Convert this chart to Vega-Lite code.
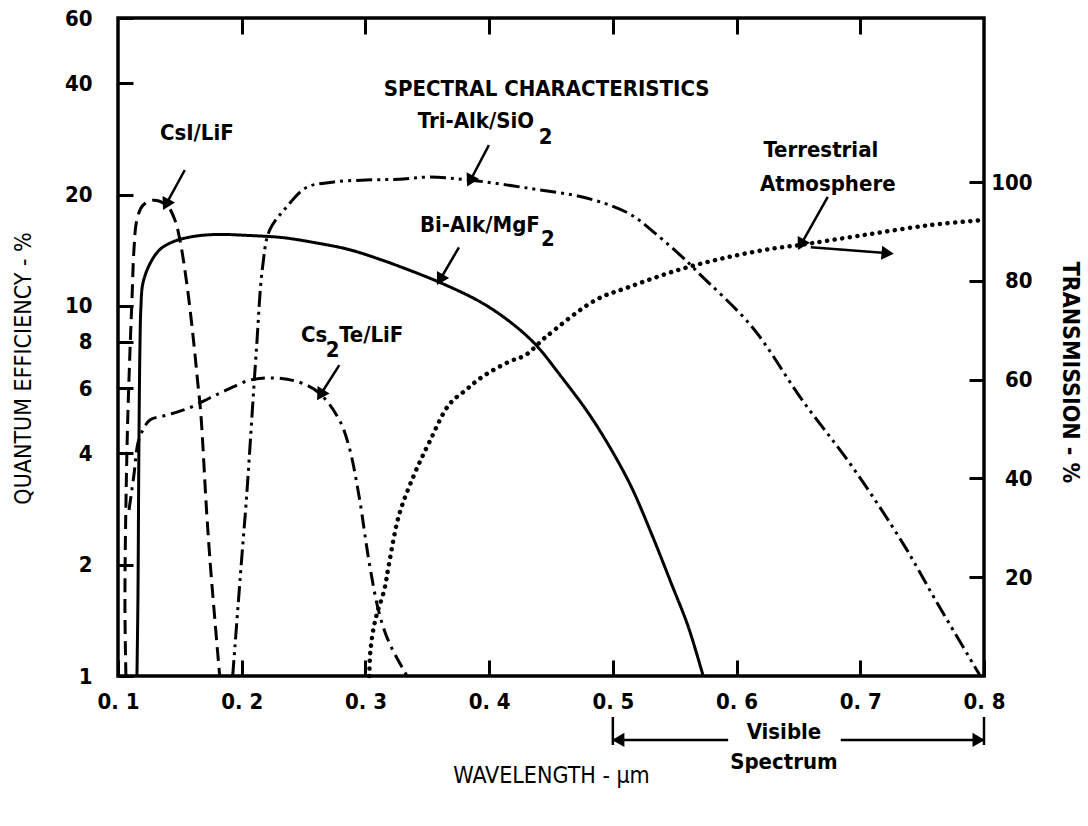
{
  "$schema": "https://vega.github.io/schema/vega-lite/v6.json",
  "width": 866,
  "height": 658,
  "autosize": {"type": "none"},
  "padding": {"left": 118, "top": 18, "right": 104, "bottom": 150},
  "background": "white",
  "config": {
    "font": "Liberation Sans Narrow, DejaVu Sans Condensed, sans-serif",
    "view": {"stroke": "black", "strokeWidth": 3.5},
    "axis": {
      "domain": false,
      "grid": false,
      "tickColor": "black",
      "tickWidth": 3,
      "labelColor": "black",
      "titleColor": "black",
      "labelFont": "Liberation Sans Narrow, DejaVu Sans Condensed, sans-serif",
      "titleFont": "Liberation Sans Narrow, DejaVu Sans Condensed, sans-serif",
      "labelFontWeight": "bold",
      "labelFontSize": 22,
      "titleFontSize": 23,
      "titleFontWeight": "normal",
      "labelFlush": false,
      "labelOverlap": false,
      "labelBound": false
    },
    "text": {"font": "Liberation Sans Narrow, DejaVu Sans Condensed, sans-serif"}
  },
  "datasets": {
    "qe": [
      {"series": "CsI/LiF", "wl": 0.1064, "qe": 1.0},
      {"series": "CsI/LiF", "wl": 0.1056, "qe": 1.6},
      {"series": "CsI/LiF", "wl": 0.1073, "qe": 4.16},
      {"series": "CsI/LiF", "wl": 0.1097, "qe": 7.6},
      {"series": "CsI/LiF", "wl": 0.1113, "qe": 10.4},
      {"series": "CsI/LiF", "wl": 0.1129, "qe": 14.2},
      {"series": "CsI/LiF", "wl": 0.1153, "qe": 17.1},
      {"series": "CsI/LiF", "wl": 0.1201, "qe": 18.7},
      {"series": "CsI/LiF", "wl": 0.1282, "qe": 19.3},
      {"series": "CsI/LiF", "wl": 0.1395, "qe": 18.7},
      {"series": "CsI/LiF", "wl": 0.1459, "qe": 17.1},
      {"series": "CsI/LiF", "wl": 0.15, "qe": 15.1},
      {"series": "CsI/LiF", "wl": 0.1556, "qe": 11.5},
      {"series": "CsI/LiF", "wl": 0.1604, "qe": 8.45},
      {"series": "CsI/LiF", "wl": 0.1645, "qe": 6.19},
      {"series": "CsI/LiF", "wl": 0.1669, "qe": 5.14},
      {"series": "CsI/LiF", "wl": 0.1717, "qe": 2.76},
      {"series": "CsI/LiF", "wl": 0.175, "qe": 1.93},
      {"series": "CsI/LiF", "wl": 0.1822, "qe": 1.0},

      {"series": "Bi-Alk/MgF2", "wl": 0.1153, "qe": 1.0},
      {"series": "Bi-Alk/MgF2", "wl": 0.1161, "qe": 1.6},
      {"series": "Bi-Alk/MgF2", "wl": 0.1169, "qe": 4.16},
      {"series": "Bi-Alk/MgF2", "wl": 0.1177, "qe": 7.6},
      {"series": "Bi-Alk/MgF2", "wl": 0.1185, "qe": 9.9},
      {"series": "Bi-Alk/MgF2", "wl": 0.1201, "qe": 11.5},
      {"series": "Bi-Alk/MgF2", "wl": 0.1258, "qe": 13.0},
      {"series": "Bi-Alk/MgF2", "wl": 0.1338, "qe": 14.2},
      {"series": "Bi-Alk/MgF2", "wl": 0.1443, "qe": 14.9},
      {"series": "Bi-Alk/MgF2", "wl": 0.1604, "qe": 15.4},
      {"series": "Bi-Alk/MgF2", "wl": 0.1798, "qe": 15.6},
      {"series": "Bi-Alk/MgF2", "wl": 0.2064, "qe": 15.5},
      {"series": "Bi-Alk/MgF2", "wl": 0.233, "qe": 15.3},
      {"series": "Bi-Alk/MgF2", "wl": 0.2604, "qe": 14.8},
      {"series": "Bi-Alk/MgF2", "wl": 0.2869, "qe": 14.2},
      {"series": "Bi-Alk/MgF2", "wl": 0.3135, "qe": 13.3},
      {"series": "Bi-Alk/MgF2", "wl": 0.3272, "qe": 12.8},
      {"series": "Bi-Alk/MgF2", "wl": 0.3595, "qe": 11.6},
      {"series": "Bi-Alk/MgF2", "wl": 0.3941, "qe": 10.2},
      {"series": "Bi-Alk/MgF2", "wl": 0.4183, "qe": 8.98},
      {"series": "Bi-Alk/MgF2", "wl": 0.4376, "qe": 7.86},
      {"series": "Bi-Alk/MgF2", "wl": 0.4586, "qe": 6.42},
      {"series": "Bi-Alk/MgF2", "wl": 0.4803, "qe": 5.13},
      {"series": "Bi-Alk/MgF2", "wl": 0.4989, "qe": 4.08},
      {"series": "Bi-Alk/MgF2", "wl": 0.515, "qe": 3.24},
      {"series": "Bi-Alk/MgF2", "wl": 0.5311, "qe": 2.43},
      {"series": "Bi-Alk/MgF2", "wl": 0.5472, "qe": 1.78},
      {"series": "Bi-Alk/MgF2", "wl": 0.5609, "qe": 1.36},
      {"series": "Bi-Alk/MgF2", "wl": 0.573, "qe": 1.0},

      {"series": "Tri-Alk/SiO2", "wl": 0.1927, "qe": 1.0},
      {"series": "Tri-Alk/SiO2", "wl": 0.1999, "qe": 2.06},
      {"series": "Tri-Alk/SiO2", "wl": 0.2039, "qe": 3.04},
      {"series": "Tri-Alk/SiO2", "wl": 0.212, "qe": 7.74},
      {"series": "Tri-Alk/SiO2", "wl": 0.2168, "qe": 12.7},
      {"series": "Tri-Alk/SiO2", "wl": 0.2225, "qe": 16.0},
      {"series": "Tri-Alk/SiO2", "wl": 0.2362, "qe": 18.5},
      {"series": "Tri-Alk/SiO2", "wl": 0.2523, "qe": 20.9},
      {"series": "Tri-Alk/SiO2", "wl": 0.2732, "qe": 21.6},
      {"series": "Tri-Alk/SiO2", "wl": 0.3006, "qe": 21.9},
      {"series": "Tri-Alk/SiO2", "wl": 0.3272, "qe": 22.0},
      {"series": "Tri-Alk/SiO2", "wl": 0.3514, "qe": 22.3},
      {"series": "Tri-Alk/SiO2", "wl": 0.3836, "qe": 21.9},
      {"series": "Tri-Alk/SiO2", "wl": 0.432, "qe": 20.8},
      {"series": "Tri-Alk/SiO2", "wl": 0.4779, "qe": 19.6},
      {"series": "Tri-Alk/SiO2", "wl": 0.5126, "qe": 17.8},
      {"series": "Tri-Alk/SiO2", "wl": 0.5343, "qe": 15.7},
      {"series": "Tri-Alk/SiO2", "wl": 0.5609, "qe": 13.1},
      {"series": "Tri-Alk/SiO2", "wl": 0.569, "qe": 12.3},
      {"series": "Tri-Alk/SiO2", "wl": 0.6126, "qe": 8.77},
      {"series": "Tri-Alk/SiO2", "wl": 0.653, "qe": 5.57},
      {"series": "Tri-Alk/SiO2", "wl": 0.6937, "qe": 3.67},
      {"series": "Tri-Alk/SiO2", "wl": 0.7342, "qe": 2.29},
      {"series": "Tri-Alk/SiO2", "wl": 0.761, "qe": 1.6},
      {"series": "Tri-Alk/SiO2", "wl": 0.797, "qe": 1.0},

      {"series": "Cs2Te/LiF", "wl": 0.1089, "qe": 2.81},
      {"series": "Cs2Te/LiF", "wl": 0.1129, "qe": 3.5},
      {"series": "Cs2Te/LiF", "wl": 0.1161, "qe": 4.26},
      {"series": "Cs2Te/LiF", "wl": 0.1201, "qe": 4.62},
      {"series": "Cs2Te/LiF", "wl": 0.1258, "qe": 4.92},
      {"series": "Cs2Te/LiF", "wl": 0.1395, "qe": 5.07},
      {"series": "Cs2Te/LiF", "wl": 0.158, "qe": 5.31},
      {"series": "Cs2Te/LiF", "wl": 0.1741, "qe": 5.64},
      {"series": "Cs2Te/LiF", "wl": 0.1878, "qe": 5.93},
      {"series": "Cs2Te/LiF", "wl": 0.2064, "qe": 6.3},
      {"series": "Cs2Te/LiF", "wl": 0.2249, "qe": 6.39},
      {"series": "Cs2Te/LiF", "wl": 0.2467, "qe": 6.22},
      {"series": "Cs2Te/LiF", "wl": 0.2628, "qe": 5.81},
      {"series": "Cs2Te/LiF", "wl": 0.2789, "qe": 4.92},
      {"series": "Cs2Te/LiF", "wl": 0.2869, "qe": 4.15},
      {"series": "Cs2Te/LiF", "wl": 0.295, "qe": 3.04},
      {"series": "Cs2Te/LiF", "wl": 0.3031, "qe": 2.02},
      {"series": "Cs2Te/LiF", "wl": 0.3111, "qe": 1.48},
      {"series": "Cs2Te/LiF", "wl": 0.3192, "qe": 1.23},
      {"series": "Cs2Te/LiF", "wl": 0.3337, "qe": 1.0}
    ],
    "trans": [
      {"wl": 0.3031, "t": 0},
      {"wl": 0.3039, "t": 4.7},
      {"wl": 0.3063, "t": 9.3},
      {"wl": 0.3095, "t": 12.8},
      {"wl": 0.3152, "t": 17.4},
      {"wl": 0.3192, "t": 22.9},
      {"wl": 0.3272, "t": 32.6},
      {"wl": 0.3393, "t": 40.7},
      {"wl": 0.3514, "t": 47.2},
      {"wl": 0.3675, "t": 54.9},
      {"wl": 0.3812, "t": 57.9},
      {"wl": 0.3941, "t": 60.5},
      {"wl": 0.4159, "t": 63.6},
      {"wl": 0.4296, "t": 65.0},
      {"wl": 0.4457, "t": 68.6},
      {"wl": 0.486, "t": 76.1},
      {"wl": 0.5126, "t": 78.7},
      {"wl": 0.5529, "t": 82.2},
      {"wl": 0.5932, "t": 84.8},
      {"wl": 0.631, "t": 86.6},
      {"wl": 0.6496, "t": 87.2},
      {"wl": 0.7036, "t": 89.3},
      {"wl": 0.7567, "t": 91.3},
      {"wl": 0.8, "t": 92.3}
    ],
    "labels": [
      {"text": "SPECTRAL CHARACTERISTICS", "wl": 0.4465, "qe": 38.5},
      {"text": "Tri-Alk/SiO", "wl": 0.3893, "qe": 31.6},
      {"text": "2", "wl": 0.4457, "qe": 28.6},
      {"text": "CsI/LiF", "wl": 0.1637, "qe": 29.3},
      {"text": "Bi-Alk/MgF", "wl": 0.3925, "qe": 16.6},
      {"text": "2", "wl": 0.4475, "qe": 15.2},
      {"text": "Cs", "wl": 0.2585, "qe": 8.34},
      {"text": "2", "wl": 0.2735, "qe": 7.6},
      {"text": "Te/LiF", "wl": 0.3047, "qe": 8.34},
      {"text": "Terrestrial", "wl": 0.6681, "qe": 26.4},
      {"text": "Atmosphere", "wl": 0.6737, "qe": 21.3},
      {"text": "Visible", "wl": 0.6383, "qe": 0.706},
      {"text": "Spectrum", "wl": 0.6383, "qe": 0.586}
    ],
    "arrows": [
      {"wl": 0.154, "qe": 23.3, "wl2": 0.1395, "qe2": 19.0},
      {"wl": 0.3998, "qe": 27.2, "wl2": 0.3853, "qe2": 22.0},
      {"wl": 0.3756, "qe": 14.4, "wl2": 0.3611, "qe2": 11.9},
      {"wl": 0.2789, "qe": 6.92, "wl2": 0.2644, "qe2": 5.81},
      {"wl": 0.6737, "qe": 19.7, "wl2": 0.6528, "qe2": 14.8},
      {"wl": 0.66, "qe": 14.4, "wl2": 0.7205, "qe2": 13.9},
      {"wl": 0.5, "qe": 0.672, "wl2": 0.5932, "qe2": 0.672},
      {"wl": 0.6842, "qe": 0.672, "wl2": 0.8, "qe2": 0.672},
      {"wl": 0.5, "qe": 0.775, "wl2": 0.5, "qe2": 0.651},
      {"wl": 0.8, "qe": 0.775, "wl2": 0.8, "qe2": 0.651}
    ],
    "heads": [
      {"wl": 0.1395, "qe": 19.0, "heading": 208},
      {"wl": 0.3853, "qe": 22.0, "heading": 208},
      {"wl": 0.3611, "qe": 11.9, "heading": 210},
      {"wl": 0.2644, "qe": 5.81, "heading": 212},
      {"wl": 0.6528, "qe": 14.8, "heading": 209},
      {"wl": 0.7205, "qe": 13.9, "heading": 95},
      {"wl": 0.506, "qe": 0.672, "heading": 270},
      {"wl": 0.794, "qe": 0.672, "heading": 90}
    ]
  },
  "layer": [
    {
      "layer": [
        {
          "data": {"name": "qe"},
          "mark": {"type": "line", "color": "black", "strokeWidth": 3, "interpolate": "catmull-rom", "clip": true},
          "encoding": {
            "x": {"field": "wl", "type": "quantitative",
                  "scale": {"domain": [0.1, 0.8], "nice": false, "zero": false},
                  "axis": {"orient": "bottom", "values": [0.1, 0.2, 0.3, 0.4, 0.5, 0.6, 0.7, 0.8],
                           "labelExpr": "replace(format(datum.value, '.1f'), '.', '. ')",
                           "tickSize": -16, "labelPadding": 31,
                           "title": "WAVELENGTH - μm", "titleY": 99, "titleBaseline": "middle"}},
            "y": {"field": "qe", "type": "quantitative",
                  "scale": {"type": "log", "domain": [1, 60], "nice": false},
                  "axis": {"orient": "left", "values": [1, 2, 4, 6, 8, 10, 20, 40, 60],
                           "tickSize": -15, "labelPadding": 41,
                           "title": "QUANTUM EFFICIENCY - %", "titleX": -95, "titleY": 350,
                           "titleAngle": -90, "titleAlign": "center", "titleBaseline": "middle"}},
            "detail": {"field": "series"},
            "strokeDash": {"field": "series", "type": "nominal",
                           "scale": {"domain": ["CsI/LiF", "Bi-Alk/MgF2", "Tri-Alk/SiO2", "Cs2Te/LiF"],
                                     "range": [[14, 7], [1, 0], [16, 5, 3, 5, 3, 5], [14, 6, 3, 6]]},
                           "legend": null},
            "order": {"value": null}
          }
        },
        {
          "data": {"name": "arrows"},
          "mark": {"type": "rule", "color": "black", "strokeWidth": 2.5},
          "encoding": {
            "x": {"field": "wl", "type": "quantitative",
                  "axis": {"orient": "bottom", "values": [0.1, 0.2, 0.3, 0.4, 0.5, 0.6, 0.7, 0.8],
                           "labelExpr": "replace(format(datum.value, '.1f'), '.', '. ')",
                           "tickSize": -16, "labelPadding": 31,
                           "title": "WAVELENGTH - μm", "titleY": 99, "titleBaseline": "middle"}},
            "x2": {"field": "wl2"},
            "y": {"field": "qe", "type": "quantitative",
                  "axis": {"orient": "left", "values": [1, 2, 4, 6, 8, 10, 20, 40, 60],
                           "tickSize": -15, "labelPadding": 41,
                           "title": "QUANTUM EFFICIENCY - %", "titleX": -95, "titleY": 350,
                           "titleAngle": -90, "titleAlign": "center", "titleBaseline": "middle"}},
            "y2": {"field": "qe2"}
          }
        },
        {
          "data": {"name": "heads"},
          "mark": {"type": "point", "shape": "triangle", "filled": true, "color": "black", "size": 200, "opacity": 1},
          "encoding": {
            "x": {"field": "wl", "type": "quantitative",
                  "axis": {"orient": "bottom", "values": [0.1, 0.2, 0.3, 0.4, 0.5, 0.6, 0.7, 0.8],
                           "labelExpr": "replace(format(datum.value, '.1f'), '.', '. ')",
                           "tickSize": -16, "labelPadding": 31,
                           "title": "WAVELENGTH - μm", "titleY": 99, "titleBaseline": "middle"}},
            "y": {"field": "qe", "type": "quantitative",
                  "axis": {"orient": "left", "values": [1, 2, 4, 6, 8, 10, 20, 40, 60],
                           "tickSize": -15, "labelPadding": 41,
                           "title": "QUANTUM EFFICIENCY - %", "titleX": -95, "titleY": 350,
                           "titleAngle": -90, "titleAlign": "center", "titleBaseline": "middle"}},
            "angle": {"field": "heading", "type": "quantitative", "scale": {"domain": [0, 360], "range": [0, 360]}}
          }
        },
        {
          "data": {"name": "labels"},
          "mark": {"type": "text", "color": "black", "fontSize": 22, "fontWeight": "bold", "align": "center", "baseline": "middle"},
          "encoding": {
            "x": {"field": "wl", "type": "quantitative",
                  "axis": {"orient": "bottom", "values": [0.1, 0.2, 0.3, 0.4, 0.5, 0.6, 0.7, 0.8],
                           "labelExpr": "replace(format(datum.value, '.1f'), '.', '. ')",
                           "tickSize": -16, "labelPadding": 31,
                           "title": "WAVELENGTH - μm", "titleY": 99, "titleBaseline": "middle"}},
            "y": {"field": "qe", "type": "quantitative",
                  "axis": {"orient": "left", "values": [1, 2, 4, 6, 8, 10, 20, 40, 60],
                           "tickSize": -15, "labelPadding": 41,
                           "title": "QUANTUM EFFICIENCY - %", "titleX": -95, "titleY": 350,
                           "titleAngle": -90, "titleAlign": "center", "titleBaseline": "middle"}},
            "text": {"field": "text"}
          }
        }
      ]
    },
    {
      "data": {"name": "trans"},
      "mark": {"type": "line", "color": "black", "strokeWidth": 4.5, "strokeDash": [0.1, 7.5], "strokeCap": "round", "interpolate": "catmull-rom"},
      "encoding": {
        "x": {"field": "wl", "type": "quantitative",
              "axis": {"orient": "top", "values": [0.2, 0.3, 0.4, 0.5, 0.6, 0.7], "labels": false, "tickSize": -16, "title": null}},
        "y": {"field": "t", "type": "quantitative",
              "scale": {"domain": [0, 133.2], "nice": false, "zero": false},
              "axis": {"orient": "right", "values": [20, 40, 60, 80, 100], "tickSize": -15,
                       "labelPadding": 63, "labelAlign": "right",
                       "title": "TRANSMISSION - %", "titleX": 85, "titleY": 354, "titleAngle": 90,
                       "titleAlign": "center", "titleBaseline": "middle", "titleFontWeight": "bold"}},
        "order": {"value": null}
      }
    }
  ],
  "resolve": {"scale": {"y": "independent"}, "axis": {"x": "independent", "y": "independent"}}
}
